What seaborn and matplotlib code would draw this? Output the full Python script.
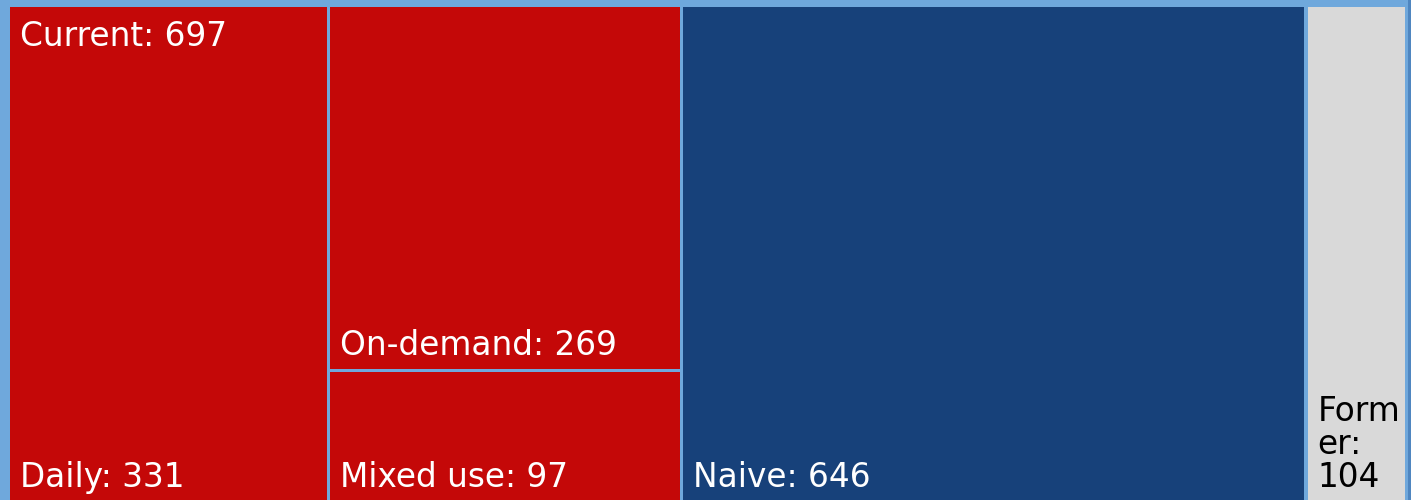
import textwrap
import matplotlib
matplotlib.use("Agg")
import matplotlib.pyplot as plt
import seaborn as sns
from matplotlib.patches import Rectangle

# treemap data
groups = ["Current", "Naive", "Former"]
group_values = [697, 646, 104]
current_leaves = ["Daily", "On-demand", "Mixed use"]
current_values = [331, 269, 97]
group_colors = ["#C40808", "#17417A", "#D9D9D9"]
text_colors = ["white", "white", "black"]

sns.set_theme(style="white")
plt.rcParams["font.family"] = ["DejaVu Sans"]

W, H = 1411, 500
BG = "#6FA8DC"
FS = 23.6         # font size in pt (dpi 100)
FPX = FS * 100 / 72
GAP = 1.6

fig = plt.figure(figsize=(W / 100, H / 100), dpi=100, facecolor=BG)
ax = fig.add_axes([0, 0, 1, 1])
ax.set_xlim(0, W)
ax.set_ylim(H, 0)
ax.axis("off")
ax.set_facecolor(BG)

X0, X1, Y0, Y1 = 8.5, 1406.5, 5.5, 502.0


def tile(x0, y0, x1, y1, color):
    ax.add_patch(Rectangle((x0 + GAP, y0 + GAP), x1 - x0 - 2 * GAP, y1 - y0 - 2 * GAP,
                           facecolor=color, edgecolor="none", zorder=2))


def leaf_label(x0, y1, x1, text, color):
    avail = x1 - x0 - 15
    nchar = max(1, int(avail / (0.62 * FPX)))
    lines = textwrap.wrap(text, width=nchar)
    base = y1 - 15
    for i, line in enumerate(reversed(lines)):
        ax.text(x0 + 11.5, base - i * 33, line, color=color, fontsize=FS,
                ha="left", va="baseline", zorder=3)


total = sum(group_values)
x = X0
for g, v, c, tc in zip(groups, group_values, group_colors, text_colors):
    gw = (X1 - X0) * v / total
    gx0, gx1 = x, x + gw
    if g == "Current":
        # first leaf takes a full-height column, the rest stack
        lw = gw * current_values[0] / v
        tile(gx0, Y0, gx0 + lw, Y1, c)
        leaf_label(gx0, Y1, gx0 + lw, f"{current_leaves[0]}: {current_values[0]}", tc)
        rest = sum(current_values[1:])
        y = Y0
        for name, lv in zip(current_leaves[1:], current_values[1:]):
            lh = (Y1 - Y0) * lv / rest
            tile(gx0 + lw, y, gx1, y + lh, c)
            leaf_label(gx0 + lw, y + lh, gx1, f"{name}: {lv}", tc)
            y += lh
        ax.text(gx0 + 11.5, Y0 + 40.5, f"{g}: {v}", color=tc, fontsize=FS,
                ha="left", va="baseline", zorder=3)
    else:
        tile(gx0, Y0, gx1, Y1, c)
        leaf_label(gx0, Y1, gx1, f"{g}: {v}", tc)
    x = gx1

# darker outer rim on the right
ax.add_patch(Rectangle((W - 3, 0), 3, H, facecolor="#4F86C0", edgecolor="none", zorder=1))

fig.savefig("out.png", dpi=100, facecolor=BG)
